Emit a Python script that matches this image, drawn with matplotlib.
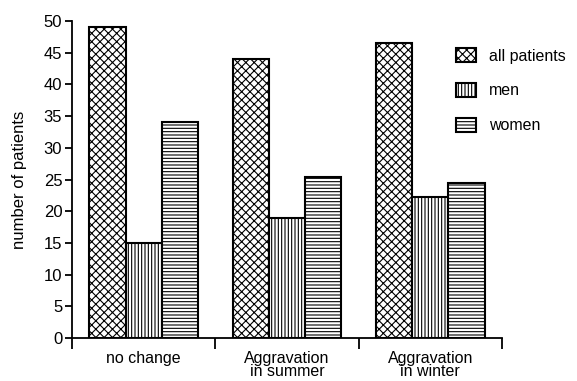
import numpy as np
import matplotlib.pyplot as plt

plt.rcParams['font.family'] = ['Liberation Sans', 'DejaVu Sans']
plt.rcParams['hatch.linewidth'] = 0.8

categories = ['no change', 'Aggravation\nin summer', 'Aggravation\nin winter']
all_patients = [49, 44, 46.5]
men = [15, 19, 22.3]
women = [34, 25.4, 24.5]

fig = plt.figure(figsize=(5.77, 3.81), dpi=100)
ax = fig.add_axes([72 / 577, 1 - 338 / 381, 430 / 577, 317 / 381])

x = np.arange(len(categories)) + 0.5
w = 0.252
bar_kw = dict(width=w, color='white', edgecolor='black', linewidth=1.5)
ax.bar(x - w, all_patients, hatch='xxxx', label='all patients', **bar_kw)
ax.bar(x, men, hatch='|||||', label='men', **bar_kw)
ax.bar(x + w, women, hatch='-----', label='women', **bar_kw)

ax.set_xlim(0, 3)
ax.set_ylim(0, 50)
ax.set_yticks(range(0, 51, 5))
ax.set_xticks([0, 1, 2, 3])
ax.set_xticklabels([])
ax.set_xticks(x, minor=True)
ax.set_xticklabels(categories, minor=True, fontsize=11.5, linespacing=0.9)
ax.tick_params(axis='x', which='minor', length=0, pad=9)
ax.tick_params(axis='x', which='major', length=8, width=1.3, direction='out')
ax.tick_params(axis='y', length=5, width=1.3, labelsize=12, pad=2)

for s in ['top', 'right']:
    ax.spines[s].set_visible(False)
for s in ['left', 'bottom']:
    ax.spines[s].set_linewidth(1.3)

ax.set_ylabel('number of patients', fontsize=12)
ax.yaxis.set_label_coords(-0.105, 0.5)

ax.legend(loc='upper left', bbox_to_anchor=(456 / 577, 1 - 48 / 381),
          bbox_transform=fig.transFigure, frameon=False, borderaxespad=0,
          borderpad=0, handlelength=1.25, handleheight=1.0, handletextpad=0.8,
          labelspacing=1.2, fontsize=11.5)

plt.savefig('out.png', dpi=100)
